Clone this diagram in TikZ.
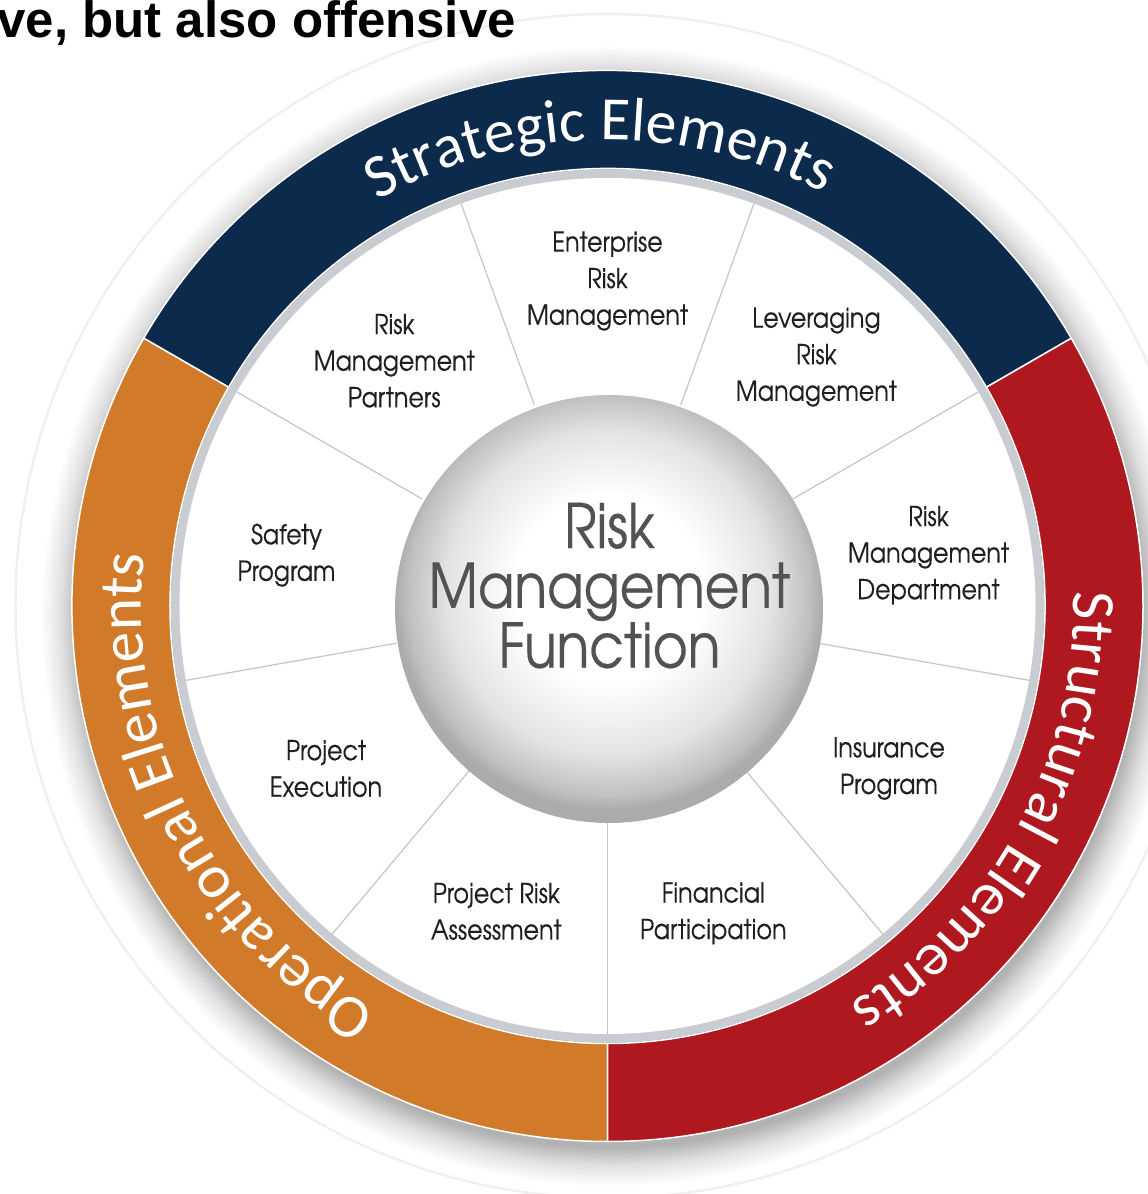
\documentclass[tikz,border=0pt]{standalone}
\usepackage{fontspec}
\setmainfont{Liberation Sans}
\newfontfamily\geofont[FakeStretch=0.87,FakeBold=0.35]{texgyreadventor-regular.otf}
\newfontfamily\ringfont{Carlito}
\usetikzlibrary{decorations.text}

\definecolor{navy}{RGB}{12,43,76}
\definecolor{brick}{RGB}{176,24,32}
\definecolor{ochre}{RGB}{208,122,42}
\definecolor{rim}{RGB}{201,205,209}

% soft shadow round the ring, and the grey ball in the middle
\pgfdeclareradialshading{halo}{\pgfpointorigin}{color(0bp)=(black!36); color(23.3bp)=(black!30);
  color(24.1bp)=(black!12); color(25bp)=(white); color(50bp)=(white)}
\pgfdeclareradialshading{sphere}{\pgfpoint{0bp}{3bp}}{color(0bp)=(white); color(11bp)=(white);
  color(19bp)=(black!11); color(23.5bp)=(black!25); color(25bp)=(black!33); color(50bp)=(black!33)}

\begin{document}
\begin{tikzpicture}[x=0.2mm,y=0.2mm,
    seglabel/.style={align=center,text=black!88,font=\geofont\fontsize{15.6}{20.8}\selectfont},
    ringlabel/.style={decorate,decoration={text along path,text align=center,text color=white,
      text={|\ringfont\fontsize{35}{35}\selectfont|#1}}}]
  \useasboundingbox (-607.5,-588) rectangle (540.5,606);
  \clip (-607.5,-588) rectangle (540.5,606);
  \def\sector#1#2#3{\fill[#3,draw=white,line width=0.3mm] (#1:535.5) arc[start angle=#1,end angle=#2,radius=535.5]
    -- (#2:437.5) arc[start angle=#2,end angle=#1,radius=437.5] -- cycle;}

  \draw[black!6,line width=0.5mm] (0,0) circle (592);
  \shade[shading=halo] (3,-10) circle (570);

  % outer ring
  \sector{30}{150}{navy}
  \sector{150}{270}{ochre}
  \sector{-90}{30}{brick}
  \fill[rim] (0,0) circle (436.5);
  \fill[white] (0,0) circle (428);

  \foreach \a in {-90,-50,...,230}
    \draw[black!22,line width=0.25mm] (\a:214) -- (\a:428);

  \shade[shading=sphere] (1.5,-3) circle (214);
  \node[align=center,text=black!68,font=\geofont\fontsize{35}{34}\selectfont] (core) at (2,20.5)
    {Risk\\Management\\Function};

  \foreach \a/\n/\t in {90/erm/{Enterprise\\Risk\\Management},50/lev/{Leveraging\\Risk\\Management},
      9/rmd/{Risk\\Management\\Department},-30/ins/{Insurance\\Program},-71/fin/{Financial\\Participation},
      -110/pra/{Project Risk\\Assessment},-150/pex/{Project\\Execution},171/saf/{Safety\\Program},
      131/rmp/{Risk\\Management\\Partners}}
    \node[seglabel] (\n) at (\a:325) {\t};

  \path[ringlabel=Strategic Elements] (151:466) arc[start angle=151,end angle=31,radius=466];
  \path[ringlabel=Structural Elements] (31.5:466) arc[start angle=31.5,end angle=-88.5,radius=466];
  \path[ringlabel=Operational Elements] (267:466) arc[start angle=267,end angle=147,radius=466];

  \node[font=\bfseries\fontsize{29}{29}\selectfont,anchor=base east] (headline) at (-85.5,568) {ve, but also offensive};
\end{tikzpicture}
\end{document}
